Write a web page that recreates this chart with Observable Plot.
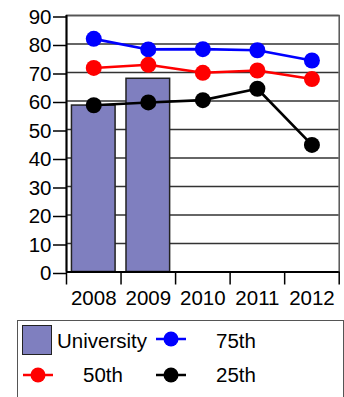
<!DOCTYPE html>
<html>
<head>
<meta charset="utf-8">
<script src="https://cdn.jsdelivr.net/npm/d3@7"></script>
<script src="https://cdn.jsdelivr.net/npm/@observablehq/plot@0.6"></script>
<style>
  html, body { margin: 0; padding: 0; background: #fff; }
  #wrap { position: relative; width: 344px; height: 397px; overflow: hidden; font-family: "Liberation Sans", Arial, sans-serif; }
  #chart { position: absolute; left: 0; top: 0; }
  #legend { position: absolute; left: 17px; top: 320px; width: 327px; height: 100px; border: 1.5px solid #555; box-sizing: border-box; }
  .item { position: absolute; font-size: 20.5px; color: #000; line-height: 1; }
  .sw { position: absolute; }
</style>
</head>
<body>
<div id="wrap">
  <div id="chart"></div>
  <div id="legend"></div>
</div>
<script>
const years = [2008, 2009, 2010, 2011, 2012];
const yearLabels = ["2008", "2009", "2010", "2011", "2012"];
const universityYears = [2008, 2009];
const university = [58.4, 67.8];
const p75 = [81.8, 78.1, 78.2, 77.8, 74.2];
const p50 = [71.6, 72.7, 69.9, 70.7, 67.7];
const p25 = [58.5, 59.5, 60.3, 64.3, 44.6];
const yTicks = [0, 10, 20, 30, 40, 50, 60, 70, 80, 90];
const seriesNames = ["75th", "50th", "25th"];
const seriesColors = ["#0000ff", "#ff0000", "#000000"];
const barColor = "#7f7fbf";

const bars = universityYears.map((y, i) => ({year: y, value: university[i]}));
const seriesVals = [p75, p50, p25];
const lines = [];
seriesNames.forEach((s, k) => years.forEach((y, i) => lines.push({series: s, year: y, value: seriesVals[k][i]})));
const boundaries = [years[0] - 0.5, ...years.map(y => y + 0.5)];

const chart = Plot.plot({
  width: 344,
  height: 310,
  marginLeft: 66,
  marginRight: 5.3,
  marginTop: 15,
  marginBottom: 38.5,
  style: {fontFamily: "Liberation Sans, Arial, sans-serif", fontSize: "20.5px", background: "transparent"},
  x: {domain: [boundaries[0], boundaries[boundaries.length - 1]]},
  y: {domain: [0, 90]},
  color: {domain: seriesNames, range: seriesColors},
  marks: [
    Plot.gridY(yTicks, {stroke: "#333", strokeOpacity: 1, strokeWidth: 1.5}),
    Plot.frame({stroke: "#555", strokeWidth: 1.5}),
    Plot.rectY(bars, {x1: d => d.year - 0.4, x2: d => d.year + 0.4, y: "value", fill: barColor, stroke: "#222", strokeWidth: 1.5}),
    Plot.line(lines, {x: "year", y: "value", z: "series", stroke: "series", strokeWidth: 2.6}),
    Plot.dot(lines, {x: "year", y: "value", fill: "series", r: 8}),
    Plot.ruleX([boundaries[0]], {stroke: "#000", strokeWidth: 2}),
    Plot.ruleY([0], {stroke: "#000", strokeWidth: 2}),
    Plot.axisY({ticks: yTicks, tickSize: 13, tickPadding: 2, fontSize: 20.5, strokeWidth: 1.5, dy: 1.5, label: null, stroke: "#000", color: "#000"}),
    Plot.axisX({ticks: boundaries, tickSize: 13, strokeWidth: 1.5, tickFormat: () => "", label: null}),
    Plot.axisX({ticks: years, tickSize: 0, tickPadding: 18, fontSize: 20.5, tickFormat: (d, i) => yearLabels[years.indexOf(d)], label: null, fill: "#000"})
  ]
});
document.getElementById("chart").appendChild(chart);

// Legend
const legend = document.getElementById("legend");
const ns = "http://www.w3.org/2000/svg";
function lineSwatch(color, left, top) {
  const svg = document.createElementNS(ns, "svg");
  svg.setAttribute("width", 32); svg.setAttribute("height", 18);
  svg.setAttribute("class", "sw");
  svg.style.left = left + "px"; svg.style.top = top + "px";
  const l = document.createElementNS(ns, "line");
  l.setAttribute("x1", 1); l.setAttribute("x2", 31); l.setAttribute("y1", 9); l.setAttribute("y2", 9);
  l.setAttribute("stroke", color); l.setAttribute("stroke-width", 2.5);
  const c = document.createElementNS(ns, "circle");
  c.setAttribute("cx", 16); c.setAttribute("cy", 9); c.setAttribute("r", 7.5); c.setAttribute("fill", color);
  svg.appendChild(l); svg.appendChild(c);
  legend.appendChild(svg);
}
function label(text, left, top) {
  const d = document.createElement("div");
  d.className = "item"; d.textContent = text;
  d.style.left = left + "px"; d.style.top = top + "px";
  legend.appendChild(d);
}
// University swatch
const sq = document.createElement("div");
sq.className = "sw";
Object.assign(sq.style, {left: "4px", top: "4px", width: "30px", height: "30px", background: barColor, border: "1.5px solid #222", boxSizing: "border-box"});
legend.appendChild(sq);
label("University", 39, 10);
lineSwatch(seriesColors[0], 137, 9);
label(seriesNames[0], 198, 10);
lineSwatch(seriesColors[1], 4, 45);
label(seriesNames[1], 65, 44);
lineSwatch(seriesColors[2], 137, 45);
label(seriesNames[2], 198, 44);
</script>
</body>
</html>
